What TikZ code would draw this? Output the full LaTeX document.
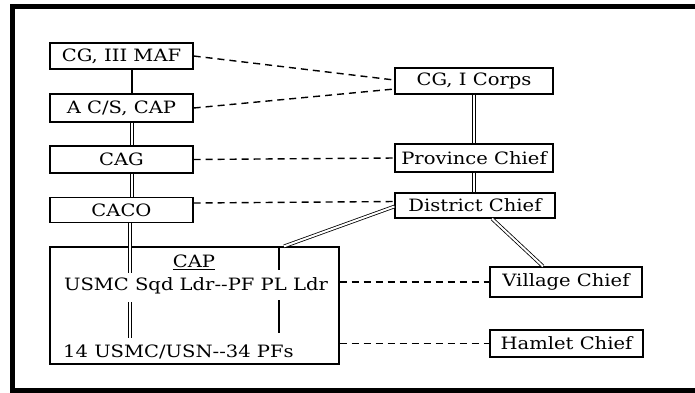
\documentclass[tikz,border=0pt]{standalone}
\usepackage{fontspec}
\setmainfont[FakeStretch=1.15]{DejaVu Serif}
\usetikzlibrary{calc}
\begin{document}
\begin{tikzpicture}[x=1pt,y=-1pt,
  box/.style={draw,line width=1.3pt,inner sep=0pt,font=\fontsize{17}{19}\selectfont},
  txt/.style={inner sep=1pt,font=\fontsize{17}{19}\selectfont},
  dline/.style={double,double distance=2pt,line width=0.8pt},
  sline/.style={line width=2pt},
  dashline/.style={line width=1.4pt,dash pattern=on 7pt off 5pt},
  frame/.style={line width=5pt}]
\useasboundingbox (0,0) rectangle (695,392);
% frame
\draw[frame] (695,6) -- (12,6) -- (12,390) -- (695,390);
% left column
\node[box,minimum width=143pt,minimum height=26pt] (cg3) at (121.5,56) {CG, III MAF};
\node[box,minimum width=143pt,minimum height=28pt] (acs) at (121.5,108) {A C/S, CAP};
\node[box,minimum width=143pt,minimum height=27pt] (cag) at (121.5,159.5) {CAG};
\node[box,minimum width=143pt,minimum height=25pt] (caco) at (121.5,210) {CACO};
\node[box,minimum width=289pt,minimum height=117pt] (cap) at (194.5,305.5) {};
\node[txt] (captitle) at (194,262) {\underline{CAP}};
\node[txt] (usmc) at (196,286) {USMC Sqd Ldr-{}-PF PL Ldr};
\node[txt,anchor=west] (fourteen) at (62,352) {14 USMC/USN-{}-34 PFs};
% right column
\node[box,minimum width=158pt,minimum height=26pt] (cg1) at (474,81) {CG, I Corps};
\node[box,minimum width=158pt,minimum height=28pt] (prov) at (474,158) {Province Chief};
\node[box,minimum width=160pt,minimum height=25pt] (dist) at (475,205.5) {District Chief};
\node[box,minimum width=152pt,minimum height=30pt] (vill) at (566,282) {Village Chief};
\node[box,minimum width=153pt,minimum height=27pt] (ham) at (566.5,343.5) {Hamlet Chief};
% spine
\coordinate (sp) at (132,0);
\coordinate (sp2) at (130,0);
\coordinate (a1) at (130,273);
\coordinate (a2) at (130,302);
\coordinate (a3) at (130,338);
\coordinate (pl) at (279,0);
\coordinate (b1) at (279,270);
\coordinate (b2) at (279,300);
\coordinate (b3) at (279,333);
\draw[sline] (cg3.south -| sp) -- (acs.north -| sp);
\draw[dline] (acs.south -| sp) -- (cag.north -| sp);
\draw[dline] (cag.south -| sp) -- (caco.north -| sp);
\draw[dline] (caco.south -| sp2) -- (a1);
\draw[dline] (a2) -- (a3);
\draw[sline] (cap.north -| pl) -- (b1);
\draw[sline] (b2) -- (b3);
\draw[dline] (cg1.south) -- (prov.north);
\draw[dline] (prov.south) -- (dist.north -| prov.south);
\coordinate (dv1) at (492,0);
\coordinate (dv2) at (543,0);
\draw[dline] (dist.south -| dv1) -- (vill.north -| dv2);
\coordinate (cx) at (284,0);
\draw[dline] (cap.north -| cx) -- ([yshift=-1pt]dist.west);
% dashed
\draw[dashline] (cg3.east) -- ([yshift=1pt]cg1.west);
\draw[dashline] (acs.east) -- ([yshift=-8pt]cg1.west);
\draw[dashline] (cag.east) -- (prov.west);
\draw[dashline] ([yshift=7pt]caco.east) -- ([yshift=4pt]dist.west);
\draw[dashline] (cap.east |- vill.west) -- (vill.west);
\draw[dashline] (cap.east |- ham.west) -- (ham.west);
\end{tikzpicture}
\end{document}
